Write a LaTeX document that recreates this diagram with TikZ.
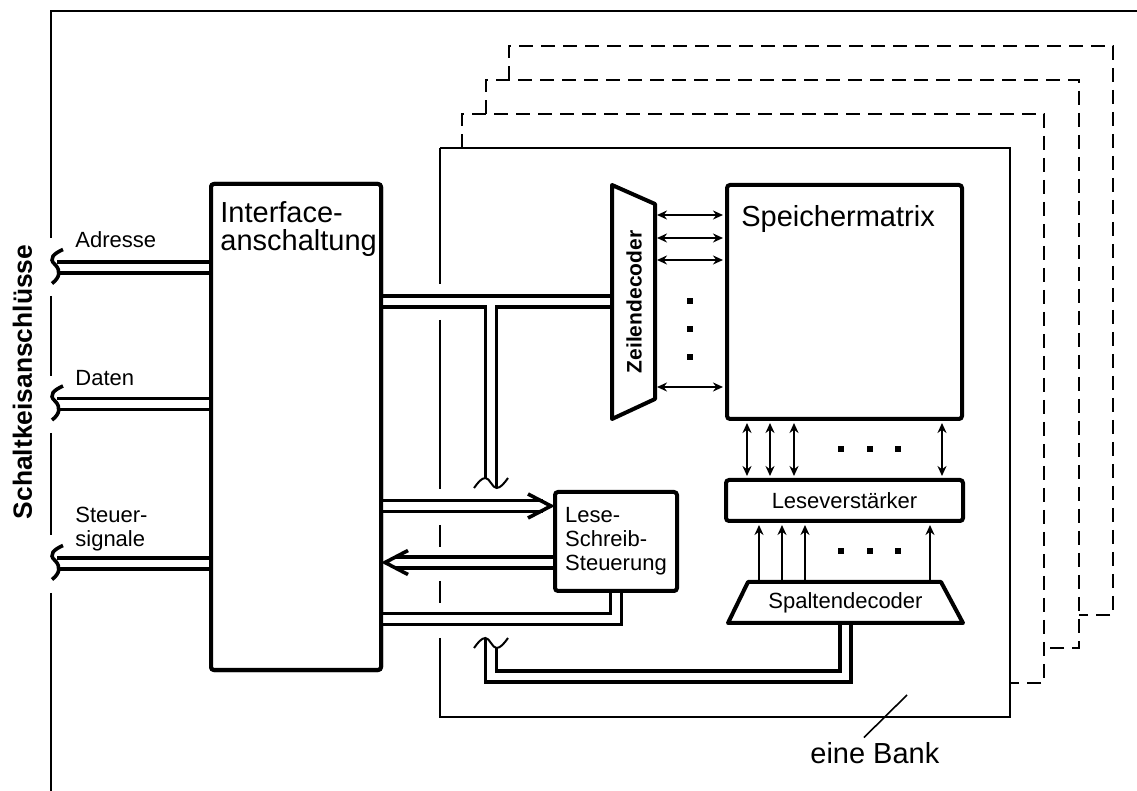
\documentclass[tikz,border=0pt]{standalone}
\usepackage{fontspec}
\setmainfont{Liberation Sans}
\usetikzlibrary{arrows.meta}

\begin{document}
\begin{tikzpicture}[x=.5pt,y=-.5pt,>={Stealth[length=5pt,width=4.5pt]},
  frame/.style={line width=1pt},
  box/.style={draw,line width=2pt,rounded corners=1.5pt,fill=white,inner sep=0pt},
  bus/.style={draw,double,double distance=3.7pt,line width=1.8pt},
  sig/.style={line width=1pt},
  big/.style={font=\fontsize{14.5}{14}\selectfont},
  small/.style={font=\fontsize{11}{12}\selectfont}]
  \useasboundingbox (0,0) rectangle (1137,791);
  % outer frame, open at the three connectors
  \draw[frame] (1137,11) -- (51,11) -- (51,238);
  \draw[frame] (51,296) -- (51,376);
  \draw[frame] (51,433) -- (51,535);
  \draw[frame] (51,593) -- (51,791);
  \node[rotate=90,anchor=base,font=\bfseries\fontsize{13.2}{13}\selectfont]
    (pins) at (32,382) {Schaltkeisanschlüsse};
  % further banks behind
  \draw[frame,dash pattern=on 7pt off 4pt] (462,148) |- (1044,114) |- (1010,683);
  \draw[frame,dash pattern=on 7pt off 4pt] (486,114) |- (1079,80) |- (1044,648);
  \draw[frame,dash pattern=on 7pt off 4pt] (509,80) |- (1113,46) |- (1079,615);
  % one bank
  \draw[frame] (440,148) -- (440,284) (440,320) -- (440,489)
    (440,525) -- (440,547) (440,581) -- (440,603)
    (440,638) |- (1010,717) |- (440,148);

  \node[box,minimum width=85pt,minimum height=243pt] (ifa) at (296,427) {};
  \node[box,minimum width=61pt,minimum height=49.5pt,small,align=left]
    (lss) at (616,541.5) {Lese-\\Schreib-\\Steuerung};
  \coordinate (zdl) at (612,301.5);
  \coordinate (zdr) at (655,301.5);
  \coordinate (sdt) at (845.5,582);
  \coordinate (sdb) at (845.5,623);

  % connector pins -> interface
  \foreach \y in {267.5,404,563.5} {
    \draw[bus] (57,\y) -- (ifa.west |- 0,\y);
    \draw[line width=1.8pt] (63,\y-18) .. controls (54,\y-14) and (48,\y-9) .. (55,\y-3)
      .. controls (61,\y+3) and (60,\y+10) .. (52,\y+16);
  }
  \node[small,anchor=base west,inner sep=0pt] (adr) at (75,248) {Adresse};
  \node[small,anchor=base west,inner sep=0pt] (dat) at (75,386) {Daten};
  \node[small,anchor=north west,align=left,inner sep=0pt] (ctl) at (75,507) {Steuer-\\signale};

  % buses
  \draw[bus] (ifa.east |- zdl) -- (zdl);
  \draw[bus] (491,305.2) -- (491,478);
  \draw[line width=1.8pt] (496.5,478) -- (496.5,488);
  \draw[bus,shorten >=5pt] (ifa.east |- 0,506) -- (lss.west |- 0,506);
  \draw[bus,shorten >=6pt] (lss.west |- 0,562.5) -- (ifa.east |- 0,562.5);
  \draw[bus] (lss.south) |- (ifa.east |- 0,619);
  \draw[bus] (sdb) |- (491,676.5) -- (491,648);
  \draw[line width=1.8pt] (485.5,648) -- (485.5,638);
  \draw[sig] (474,488) sin (485.5,478) cos (491,483) sin (496.5,488) cos (508,478);
  \draw[sig] (474,648) sin (485.5,638) cos (491,643) sin (496.5,648) cos (508,638);
  \node[box,minimum width=85pt,minimum height=243pt] at (ifa) {};
  \node[big,anchor=north west,align=left,inner sep=0pt] (ifatext)
    at ([xshift=5.5pt,yshift=-9.5pt]ifa.north west) {Interface-\\anschaltung};
  % heads of the two control buses
  \draw[line width=1.8pt] ([xshift=-1pt]lss.west |- 0,506) +(-23,-12) -- +(0,0) -- +(-23,12);
  \draw[line width=1.8pt] ([xshift=1pt]ifa.east |- 0,562.5) +(23,-12) -- +(0,0) -- +(23,12);

  % memory array
  \draw[line width=2pt,line join=round,fill=white]
    (612,185) -- (655,204) -- (655,399) -- (612,419) -- cycle;
  \node[rotate=90,font=\bfseries\fontsize{10.5}{10.5}\selectfont] (zd) at (634,302) {Zeilendecoder};
  \node[box,minimum width=117.5pt,minimum height=117pt] (spm) at (844.5,302) {};
  \node[big,anchor=north west,inner sep=0pt] (spmtext)
    at ([xshift=8pt,yshift=-11pt]spm.north west) {Speichermatrix};
  \node[box,minimum width=118.5pt,minimum height=20.5pt,small] (lv) at (844.5,500.5) {Leseverstärker};
  \draw[line width=2pt,line join=round,fill=white]
    (748,582) -- (941,582) -- (963,623) -- (728,623) -- cycle;
  \node[small] (sd) at (845.5,603) {Spaltendecoder};

  \foreach \y in {215,238,260,387}
    \draw[sig,<->,shorten <=1pt,shorten >=1pt] (zdr |- 0,\y) -- (spm.west |- 0,\y);
  \foreach \x in {747,770,794,942}
    \draw[sig,<->,shorten <=1pt,shorten >=1pt] (spm.south -| \x,0) -- (lv.north -| \x,0);
  \foreach \x in {759,782,805,930}
    \draw[sig,->,shorten <=1pt,shorten >=1pt] (sdt -| \x,0) -- (lv.south -| \x,0);
  \foreach \y in {301,329,357}
    \fill (687,\y-3) rectangle ++(6,6);
  \foreach \x in {841,870,898} {
    \fill (\x-3,446) rectangle ++(6,6);
    \fill (\x-3,548) rectangle ++(6,6);
  }

  \node[big,anchor=base west,inner sep=0pt] (bank) at (810,763) {eine Bank};
  \coordinate (bankin) at (907,695);
  \draw[line width=.8pt] ([xshift=-5.5pt,yshift=2pt]bank.north) -- (bankin);
\end{tikzpicture}
\end{document}
